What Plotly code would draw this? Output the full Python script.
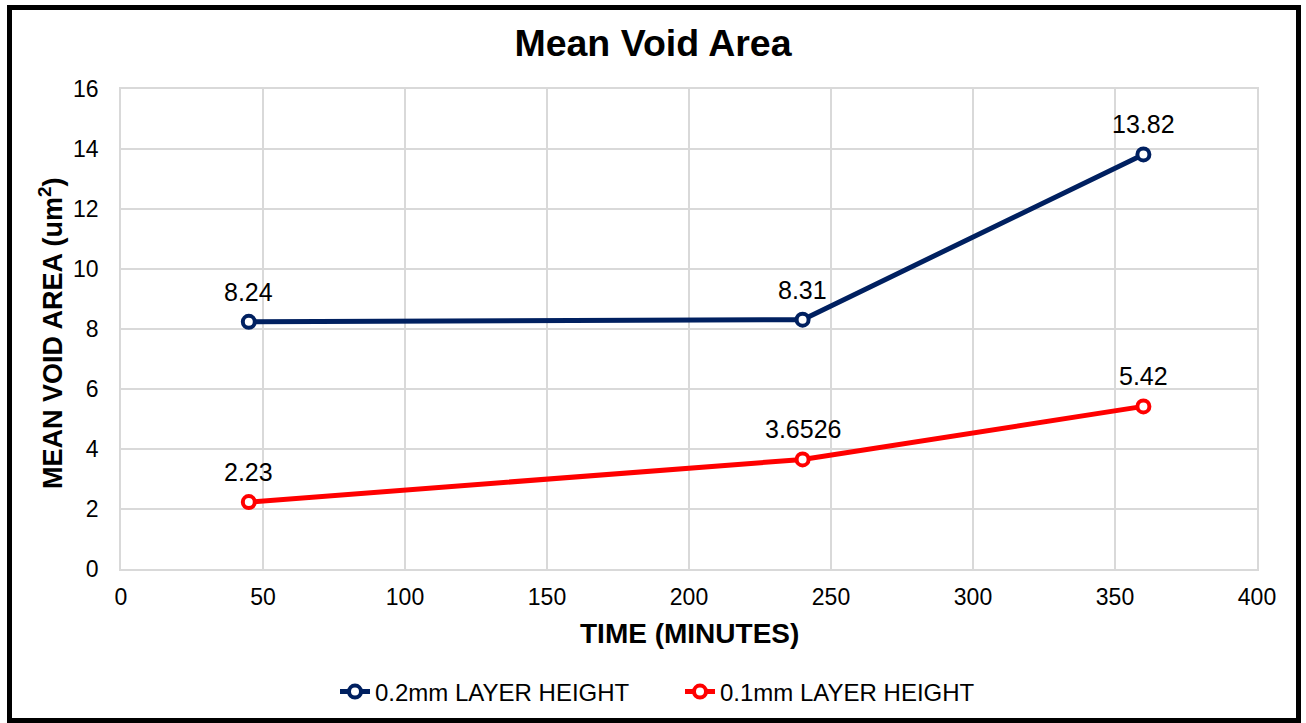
import plotly.graph_objects as go

# Mean void area against print time for two layer heights
time_min = [45, 240, 360]
area_02mm = [8.24, 8.31, 13.82]
area_01mm = [2.23, 3.6526, 5.42]
series_names = ["0.2mm LAYER HEIGHT", "0.1mm LAYER HEIGHT"]
series_colors = ["#002060", "#FF0000"]
x_ticks = [0, 50, 100, 150, 200, 250, 300, 350, 400]
y_ticks = [0, 2, 4, 6, 8, 10, 12, 14, 16]

FONT = "Arial, Liberation Sans, sans-serif"

W, H = 1306, 723
ML, MR, MT, MB = 121, 49, 89, 154
PW, PH = W - ML - MR, H - MT - MB


def px_to_paper_x(px):
    return (px - ML) / PW


def px_to_paper_y(py):
    return (H - MB - py) / PH


fig = go.Figure()
annotations = []
for name, color, values in zip(series_names, series_colors, [area_02mm, area_01mm]):
    fig.add_trace(go.Scatter(
        x=time_min, y=values, name=name, mode="lines+markers",
        line=dict(color=color, width=5),
        marker=dict(symbol="circle", size=12, color="white",
                    line=dict(color=color, width=4)),
        cliponaxis=False,
    ))
    for xv, yv in zip(time_min, values):
        annotations.append(dict(
            x=xv, y=yv, xref="x", yref="y", text=str(yv), showarrow=False,
            xanchor="center", yanchor="middle",
            yshift=30, font=dict(family=FONT, size=25, color="#000000"),
        ))

# axis titles
annotations.append(dict(
    x=0.5, y=px_to_paper_y(633), xref="paper", yref="paper",
    xanchor="center", yanchor="middle",
    text="<b>TIME (MINUTES)</b>", showarrow=False,
    font=dict(family=FONT, size=28, color="#000000"),
))
annotations.append(dict(
    x=px_to_paper_x(51), y=px_to_paper_y(333), xref="paper", yref="paper",
    xanchor="center", yanchor="middle",
    text="<b>MEAN VOID AREA (um<sup>2</sup>)</b>", showarrow=False, textangle=-90,
    font=dict(family=FONT, size=27, color="#000000"),
))

fig.update_layout(
    width=W, height=H,
    margin=dict(l=ML, r=MR, t=MT, b=MB, autoexpand=False),
    paper_bgcolor="white", plot_bgcolor="white",
    title=dict(text="<b>Mean Void Area</b>", x=0.5, xref="container", xanchor="center",
               y=1 - 43 / H, yref="container", yanchor="middle",
               font=dict(family=FONT, size=37.5, color="#000000")),
    font=dict(family=FONT, color="#000000"),
    showlegend=True,
    legend=dict(orientation="h", x=px_to_paper_x(680), y=px_to_paper_y(692),
                xanchor="center", yanchor="middle",
                font=dict(family=FONT, size=24, color="#000000"),
                itemwidth=30, tracegroupgap=0,
                entrywidth=300, entrywidthmode="pixels"),
    annotations=annotations,
    shapes=[dict(type="rect", xref="paper", yref="paper",
                 x0=px_to_paper_x(9.5), x1=px_to_paper_x(1298.5),
                 y0=px_to_paper_y(720.5), y1=px_to_paper_y(7.5),
                 line=dict(color="#000000", width=5), fillcolor="rgba(0,0,0,0)",
                 layer="above")],
)

fig.update_xaxes(
    range=[0, 400], tickvals=x_ticks, ticktext=[str(t) for t in x_ticks],
    showgrid=True, gridcolor="#D9D9D9", gridwidth=1.5,
    showline=True, linecolor="#D9D9D9", linewidth=1.5, mirror=True,
    zeroline=False, ticks="outside", ticklen=7, tickcolor="rgba(0,0,0,0)",
    tickfont=dict(family=FONT, size=23, color="#000000"),
)
fig.update_yaxes(
    range=[0, 16], tickvals=y_ticks, ticktext=[str(t) for t in y_ticks],
    showgrid=True, gridcolor="#D9D9D9", gridwidth=1.5,
    showline=True, linecolor="#D9D9D9", linewidth=1.5, mirror=True,
    zeroline=False, ticks="outside", ticklen=16, tickcolor="rgba(0,0,0,0)",
    tickfont=dict(family=FONT, size=23, color="#000000"),
)

fig.write_html("out.html")
